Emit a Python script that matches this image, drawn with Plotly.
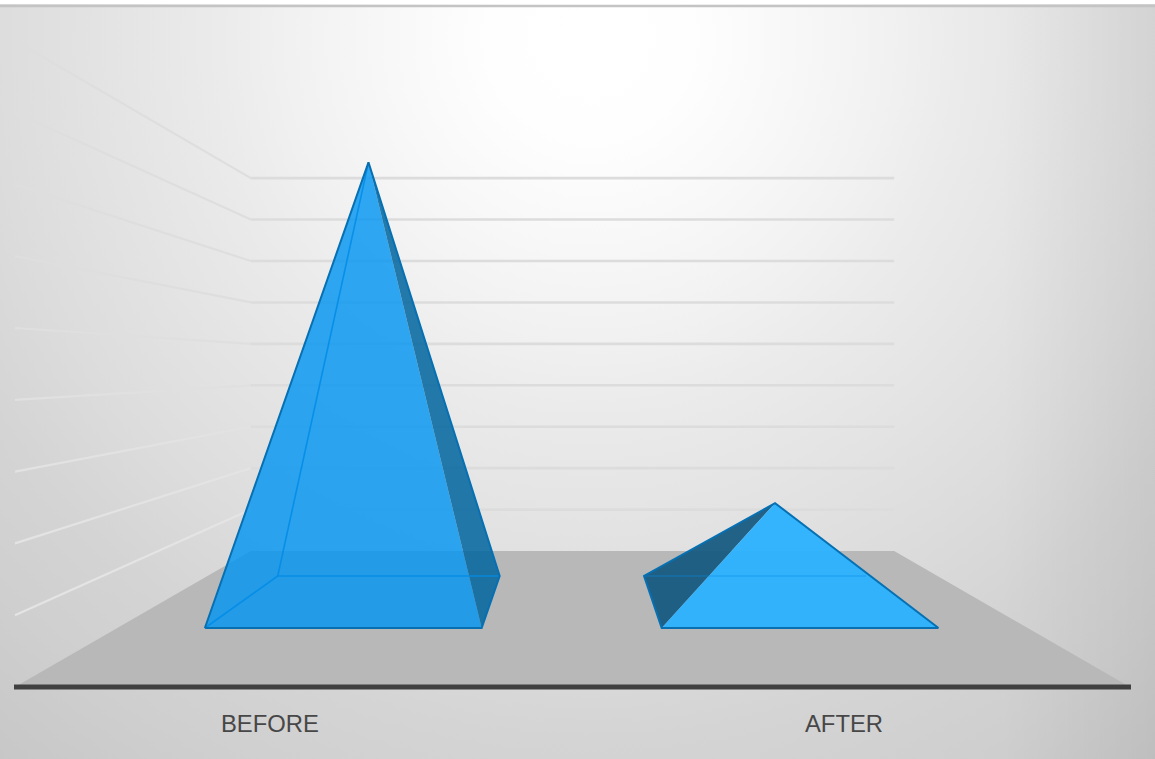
import base64
import plotly.graph_objects as go

# Chart values
categories = ["BEFORE", "AFTER"]
values = [8.37, 1.84]
grid_levels = [1, 2, 3, 4, 5, 6, 7, 8, 9]

# Perspective projection of the chart box
WIDTH, HEIGHT = 1155, 759
VP_X, VP_Y = 572.5, 365.5     # vanishing point
FRONT_Y = 687.0               # floor front edge
FLOOR_W = 1115.0              # floor width at the front
DEPTH_K = 0.733               # foreshortening from front (z=0) to back (z=1)
UNIT = 71.8                   # height of one value unit at the front
BASE_HALF = 169.5             # half width of a pyramid base
Z_NEAR, Z_FAR = 0.3066, 0.7196
SLOT_SHIFT = [-2.0, 0.0]      # small sideways nudge of each pyramid


def project(wx, h, z):
    s = 1.0 / (1.0 + DEPTH_K * z)
    return VP_X + wx * s, VP_Y + (FRONT_Y - VP_Y) * s - h * UNIT * s


def path(points):
    pts = [project(*p) for p in points]
    return [p[0] for p in pts], [p[1] for p in pts]


def polygon(points, fill):
    x, y = path(points + points[:1])
    return go.Scatter(x=x, y=y, mode="lines", fill="toself", fillcolor=fill,
                      line=dict(width=0), hoverinfo="skip", showlegend=False)


def polyline(points, color, width):
    x, y = path(points)
    return go.Scatter(x=x, y=y, mode="lines", line=dict(color=color, width=width),
                      hoverinfo="skip", showlegend=False)


# Backdrop: soft radial light from the top centre, darkening toward the right edge
backdrop = f"""<svg xmlns="http://www.w3.org/2000/svg" width="{WIDTH}" height="{HEIGHT}">
<defs><radialGradient id="g" gradientUnits="userSpaceOnUse" cx="590" cy="35" r="1000">
<stop offset="0" stop-color="#ffffff"/>
<stop offset="0.10" stop-color="#fefefe"/>
<stop offset="0.20" stop-color="#f8f8f8"/>
<stop offset="0.30" stop-color="#f1f1f1"/>
<stop offset="0.37" stop-color="#ebebeb"/>
<stop offset="0.60" stop-color="#dcdcdc"/>
<stop offset="0.64" stop-color="#d9d9d9"/>
<stop offset="0.705" stop-color="#d4d4d4"/>
<stop offset="0.81" stop-color="#cfcfcf"/>
<stop offset="0.92" stop-color="#c8c8c8"/>
<stop offset="1" stop-color="#c4c4c4"/>
</radialGradient>
<linearGradient id="edge" gradientUnits="userSpaceOnUse" x1="1000" y1="0" x2="{WIDTH}" y2="0">
<stop offset="0" stop-color="#000000" stop-opacity="0"/>
<stop offset="1" stop-color="#000000" stop-opacity="0.05"/>
</linearGradient></defs>
<rect width="{WIDTH}" height="{HEIGHT}" fill="url(#g)"/>
<rect width="{WIDTH}" height="{HEIGHT}" fill="url(#edge)"/></svg>"""
backdrop_uri = "data:image/svg+xml;base64," + base64.b64encode(backdrop.encode()).decode()

fig = go.Figure()
half = FLOOR_W / 2

# Side-wall and back-wall gridlines; the lower side-wall lines read lighter
side_grid = ["#e4e4e4", "#e3e3e3", "#e2e2e2", "#e0e0e0", "#dfdfdf",
             "#dedede", "#dedede", "#dedede", "#dedede"]
for level, side_color in zip(grid_levels, side_grid):
    fig.add_trace(polyline([(-half, level, 0), (-half, level, 1)], side_color, 2.2))
    fig.add_trace(polyline([(-half, level, 1), (half, level, 1)], "#dcdcdc", 2.6))

# Floor
fig.add_trace(polygon([(-half, 0, 0), (half, 0, 0), (half, 0, 1), (-half, 0, 1)], "#b8b8b8"))

# Per-category pyramid styling
front_fill = ["rgba(0,148,241,0.81)", "rgba(46,178,255,0.96)"]
side_fill = ["rgba(0,100,159,0.85)", "rgba(20,88,128,0.93)"]
OUTLINE = "rgb(6,112,178)"
INNER = "rgba(0,140,232,0.85)"

n = len(categories)
for i, (name, value) in enumerate(zip(categories, values)):
    cx = (i + 0.5) / n * FLOOR_W - half + SLOT_SHIFT[i]
    fl = (cx - BASE_HALF, 0, Z_NEAR)
    fr = (cx + BASE_HALF, 0, Z_NEAR)
    bl = (cx - BASE_HALF, 0, Z_FAR)
    br = (cx + BASE_HALF, 0, Z_FAR)
    apex = (cx, value, (Z_NEAR + Z_FAR) / 2)

    # The side seen from the viewer faces the chart's centre
    if cx < 0:
        side, outline = [fr, br, apex], [fl, apex, br, fr, fl]
        fig.add_trace(polygon([fl, fr, apex], front_fill[i]))
        fig.add_trace(polygon(side, side_fill[i]))
        fig.add_trace(polyline([fl, bl, apex], INNER, 1.6))
        fig.add_trace(polyline([bl, br], INNER, 1.6))
    else:
        side, outline = [fl, bl, apex], [fr, apex, bl, fl, fr]
        fig.add_trace(polygon(side, side_fill[i]))
        fig.add_trace(polygon([fl, fr, apex], front_fill[i]))
        fig.add_trace(polyline([bl, br], "rgba(0,140,232,0.55)", 1.2))
    fig.add_trace(polyline(outline, OUTLINE, 2))

# Category axis line
fig.add_trace(polyline([(-half - 1, 0, 0), (half + 1, 0, 0)], "#404040", 5))

# Top rule
fig.add_trace(go.Scatter(x=[0, WIDTH], y=[6, 6], mode="lines",
                         line=dict(color="#c4c4c4", width=2.5),
                         hoverinfo="skip", showlegend=False))

label_x = [270, 843.5]
annotations = [
    dict(x=lx, y=723.5, xref="x", yref="y", text=name, showarrow=False,
         font=dict(family="Liberation Sans, Arial, sans-serif", size=23.8, color="#474747"))
    for lx, name in zip(label_x, categories)
]

fig.update_layout(
    width=WIDTH, height=HEIGHT,
    margin=dict(l=0, r=0, t=0, b=0, pad=0),
    paper_bgcolor="white", plot_bgcolor="rgba(0,0,0,0)",
    xaxis=dict(range=[0, WIDTH], visible=False, fixedrange=True),
    yaxis=dict(range=[HEIGHT, 0], visible=False, fixedrange=True),
    showlegend=False,
    annotations=annotations,
    images=[dict(source=backdrop_uri, xref="x", yref="y", x=0, y=4, sizex=WIDTH,
                 sizey=HEIGHT - 4, sizing="stretch", xanchor="left", yanchor="top",
                 layer="below")],
)

fig.write_html("out.html", config=dict(displayModeBar=False))
